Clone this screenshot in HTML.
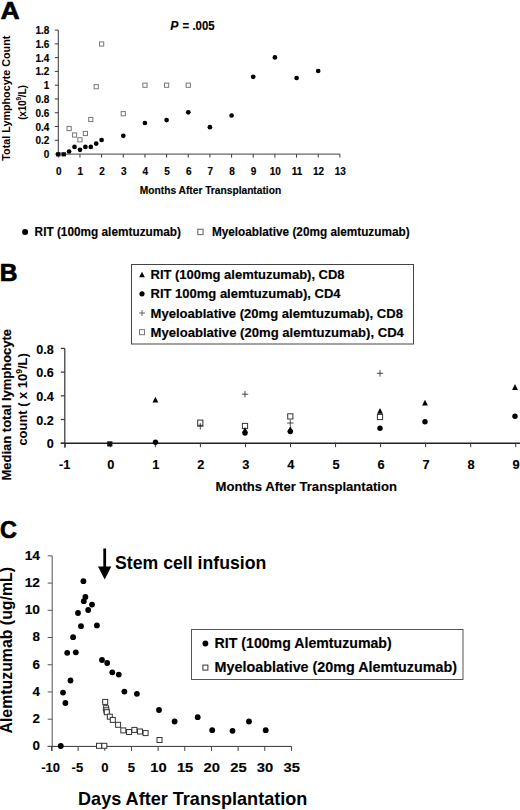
<!DOCTYPE html>
<html><head><meta charset="utf-8"><style>
html,body{margin:0;padding:0;background:#fff;}
body{width:520px;height:810px;overflow:hidden;}
svg{display:block;font-family:"Liberation Sans", sans-serif;}
text{stroke:#000;stroke-width:0.15px;paint-order:stroke;}
text.t{stroke:none;}
.big text{stroke:#000;stroke-width:0.7px;stroke-linejoin:round;}
</style></head><body>
<svg width="520" height="810" viewBox="0 0 520 810" font-family='"Liberation Sans", sans-serif'>
<rect width="520" height="810" fill="#fff"/>
<g class="big">
<text x="0.6" y="19.2" font-size="24.6" text-anchor="start" font-weight="bold" textLength="19.2" lengthAdjust="spacingAndGlyphs" class="t">A</text>
</g>
<line x1="58.3" y1="30.079999999999984" x2="58.3" y2="154.6" stroke="#3a3a3a" stroke-width="1"/>
<line x1="57.8" y1="154.1" x2="339.88" y2="154.1" stroke="#666" stroke-width="1.1"/>
<line x1="54.8" y1="154.1" x2="58.3" y2="154.1" stroke="#3a3a3a" stroke-width="1"/>
<text x="49.4" y="158.1" font-size="10" text-anchor="end" font-weight="bold">0</text>
<line x1="54.8" y1="140.32" x2="58.3" y2="140.32" stroke="#3a3a3a" stroke-width="1"/>
<text x="49.4" y="144.32" font-size="10" text-anchor="end" font-weight="bold">0.2</text>
<line x1="54.8" y1="126.53999999999999" x2="58.3" y2="126.53999999999999" stroke="#3a3a3a" stroke-width="1"/>
<text x="49.4" y="130.54" font-size="10" text-anchor="end" font-weight="bold">0.4</text>
<line x1="54.8" y1="112.75999999999999" x2="58.3" y2="112.75999999999999" stroke="#3a3a3a" stroke-width="1"/>
<text x="49.4" y="116.75999999999999" font-size="10" text-anchor="end" font-weight="bold">0.6</text>
<line x1="54.8" y1="98.97999999999999" x2="58.3" y2="98.97999999999999" stroke="#3a3a3a" stroke-width="1"/>
<text x="49.4" y="102.97999999999999" font-size="10" text-anchor="end" font-weight="bold">0.8</text>
<line x1="54.8" y1="85.19999999999999" x2="58.3" y2="85.19999999999999" stroke="#3a3a3a" stroke-width="1"/>
<text x="49.4" y="89.19999999999999" font-size="10" text-anchor="end" font-weight="bold">1</text>
<line x1="54.8" y1="71.41999999999997" x2="58.3" y2="71.41999999999997" stroke="#3a3a3a" stroke-width="1"/>
<text x="49.4" y="75.41999999999997" font-size="10" text-anchor="end" font-weight="bold">1.2</text>
<line x1="54.8" y1="57.63999999999997" x2="58.3" y2="57.63999999999997" stroke="#3a3a3a" stroke-width="1"/>
<text x="49.4" y="61.63999999999997" font-size="10" text-anchor="end" font-weight="bold">1.4</text>
<line x1="54.8" y1="43.859999999999985" x2="58.3" y2="43.859999999999985" stroke="#3a3a3a" stroke-width="1"/>
<text x="49.4" y="47.859999999999985" font-size="10" text-anchor="end" font-weight="bold">1.6</text>
<line x1="54.8" y1="30.079999999999984" x2="58.3" y2="30.079999999999984" stroke="#3a3a3a" stroke-width="1"/>
<text x="49.4" y="34.079999999999984" font-size="10" text-anchor="end" font-weight="bold">1.8</text>
<line x1="58.3" y1="154.1" x2="58.3" y2="157.6" stroke="#3a3a3a" stroke-width="1"/>
<text x="58.699999999999996" y="174.8" font-size="10" text-anchor="middle" font-weight="bold">0</text>
<line x1="79.96" y1="154.1" x2="79.96" y2="157.6" stroke="#3a3a3a" stroke-width="1"/>
<text x="80.36" y="174.8" font-size="10" text-anchor="middle" font-weight="bold">1</text>
<line x1="101.62" y1="154.1" x2="101.62" y2="157.6" stroke="#3a3a3a" stroke-width="1"/>
<text x="102.02000000000001" y="174.8" font-size="10" text-anchor="middle" font-weight="bold">2</text>
<line x1="123.28" y1="154.1" x2="123.28" y2="157.6" stroke="#3a3a3a" stroke-width="1"/>
<text x="123.68" y="174.8" font-size="10" text-anchor="middle" font-weight="bold">3</text>
<line x1="144.94" y1="154.1" x2="144.94" y2="157.6" stroke="#3a3a3a" stroke-width="1"/>
<text x="145.34" y="174.8" font-size="10" text-anchor="middle" font-weight="bold">4</text>
<line x1="166.6" y1="154.1" x2="166.6" y2="157.6" stroke="#3a3a3a" stroke-width="1"/>
<text x="167.0" y="174.8" font-size="10" text-anchor="middle" font-weight="bold">5</text>
<line x1="188.26" y1="154.1" x2="188.26" y2="157.6" stroke="#3a3a3a" stroke-width="1"/>
<text x="188.66" y="174.8" font-size="10" text-anchor="middle" font-weight="bold">6</text>
<line x1="209.92000000000002" y1="154.1" x2="209.92000000000002" y2="157.6" stroke="#3a3a3a" stroke-width="1"/>
<text x="210.32000000000002" y="174.8" font-size="10" text-anchor="middle" font-weight="bold">7</text>
<line x1="231.57999999999998" y1="154.1" x2="231.57999999999998" y2="157.6" stroke="#3a3a3a" stroke-width="1"/>
<text x="231.98" y="174.8" font-size="10" text-anchor="middle" font-weight="bold">8</text>
<line x1="253.24" y1="154.1" x2="253.24" y2="157.6" stroke="#3a3a3a" stroke-width="1"/>
<text x="253.64000000000001" y="174.8" font-size="10" text-anchor="middle" font-weight="bold">9</text>
<line x1="274.9" y1="154.1" x2="274.9" y2="157.6" stroke="#3a3a3a" stroke-width="1"/>
<text x="275.29999999999995" y="174.8" font-size="10" text-anchor="middle" font-weight="bold">10</text>
<line x1="296.56" y1="154.1" x2="296.56" y2="157.6" stroke="#3a3a3a" stroke-width="1"/>
<text x="296.96" y="174.8" font-size="10" text-anchor="middle" font-weight="bold">11</text>
<line x1="318.22" y1="154.1" x2="318.22" y2="157.6" stroke="#3a3a3a" stroke-width="1"/>
<text x="318.62" y="174.8" font-size="10" text-anchor="middle" font-weight="bold">12</text>
<line x1="339.88" y1="154.1" x2="339.88" y2="157.6" stroke="#3a3a3a" stroke-width="1"/>
<text x="340.28" y="174.8" font-size="10" text-anchor="middle" font-weight="bold">13</text>
<text x="210.5" y="194.1" font-size="10.2" text-anchor="middle" font-weight="bold" textLength="141.3" lengthAdjust="spacingAndGlyphs">Months After Transplantation</text>
<text x="170.3" y="29.9" font-size="12.2" text-anchor="start" font-weight="bold" font-style="italic">P</text>
<text x="182.6" y="29.9" font-size="12.2" text-anchor="start" font-weight="bold" textLength="32.0" lengthAdjust="spacingAndGlyphs">= .005</text>
<text x="9.6" y="98.2" font-size="10.8" text-anchor="middle" font-weight="bold" textLength="125" lengthAdjust="spacingAndGlyphs" transform="rotate(-90 9.6 98.2)" class="t">Total Lymphocyte Count</text>
<text class="t" x="26" y="102.5" font-size="10.2" font-weight="bold" text-anchor="middle" textLength="34.6" lengthAdjust="spacing" transform="rotate(-90 26 102.5)">(x10<tspan font-size="6.5" dy="-5">9</tspan><tspan dy="5">/L)</tspan></text>
<rect x="67.03" y="126.40" width="4.2" height="4.2" fill="#fff" stroke="#777" stroke-width="1"/>
<rect x="72.45" y="132.90" width="4.2" height="4.2" fill="#fff" stroke="#777" stroke-width="1"/>
<rect x="77.86" y="137.70" width="4.2" height="4.2" fill="#fff" stroke="#777" stroke-width="1"/>
<rect x="83.28" y="131.40" width="4.2" height="4.2" fill="#fff" stroke="#777" stroke-width="1"/>
<rect x="88.69" y="117.40" width="4.2" height="4.2" fill="#fff" stroke="#777" stroke-width="1"/>
<rect x="94.11" y="84.60" width="4.2" height="4.2" fill="#fff" stroke="#777" stroke-width="1"/>
<rect x="99.52" y="41.90" width="4.2" height="4.2" fill="#fff" stroke="#777" stroke-width="1"/>
<rect x="121.18" y="111.60" width="4.2" height="4.2" fill="#fff" stroke="#777" stroke-width="1"/>
<rect x="142.84" y="83.10" width="4.2" height="4.2" fill="#fff" stroke="#777" stroke-width="1"/>
<rect x="164.50" y="83.10" width="4.2" height="4.2" fill="#fff" stroke="#777" stroke-width="1"/>
<rect x="186.16" y="83.10" width="4.2" height="4.2" fill="#fff" stroke="#777" stroke-width="1"/>
<rect x="56.1" y="152.2" width="4.4" height="4.2" fill="#000"/>
<rect x="61.5" y="152.2" width="4.4" height="4.2" fill="#000"/>
<circle cx="69.1" cy="151.5" r="2.35" fill="#000"/>
<circle cx="74.5" cy="146.9" r="2.35" fill="#000"/>
<circle cx="80.0" cy="149.8" r="2.35" fill="#000"/>
<circle cx="85.4" cy="146.9" r="2.35" fill="#000"/>
<circle cx="90.8" cy="146.9" r="2.35" fill="#000"/>
<circle cx="96.2" cy="143.6" r="2.35" fill="#000"/>
<circle cx="101.6" cy="140.0" r="2.35" fill="#000"/>
<circle cx="123.3" cy="135.8" r="2.35" fill="#000"/>
<circle cx="144.9" cy="123.0" r="2.35" fill="#000"/>
<circle cx="166.6" cy="120.1" r="2.35" fill="#000"/>
<circle cx="188.3" cy="112.3" r="2.35" fill="#000"/>
<circle cx="209.9" cy="127.2" r="2.35" fill="#000"/>
<circle cx="231.6" cy="115.5" r="2.35" fill="#000"/>
<circle cx="253.2" cy="76.8" r="2.35" fill="#000"/>
<circle cx="274.9" cy="57.4" r="2.35" fill="#000"/>
<circle cx="296.6" cy="78.0" r="2.35" fill="#000"/>
<circle cx="318.2" cy="71.0" r="2.35" fill="#000"/>
<circle cx="25.1" cy="231.9" r="3" fill="#000"/>
<text x="34.6" y="235.7" font-size="12.2" text-anchor="start" font-weight="bold" textLength="146.4" lengthAdjust="spacingAndGlyphs">RIT (100mg alemtuzumab)</text>
<rect x="197.75" y="229.25" width="5.3" height="5.3" fill="#fff" stroke="#777" stroke-width="1.2"/>
<text x="211.9" y="235.7" font-size="12.2" text-anchor="start" font-weight="bold" textLength="197.7" lengthAdjust="spacingAndGlyphs">Myeloablative (20mg alemtuzumab)</text>
<g class="big">
<text x="-0.3" y="280.6" font-size="24.5" text-anchor="start" font-weight="bold" class="t">B</text>
</g>
<rect x="131.5" y="264.5" width="282" height="79.5" fill="none" stroke="#444" stroke-width="1"/>
<polygon points="139.2,277.2 144.8,277.2 142.0,271.8" fill="#000"/>
<text x="150.5" y="279.1" font-size="12.4" text-anchor="start" font-weight="bold" textLength="194.1" lengthAdjust="spacingAndGlyphs">RIT (100mg alemtuzumab), CD8</text>
<circle cx="142.0" cy="293.8" r="2.6" fill="#000"/>
<text x="150.5" y="298.35" font-size="12.4" text-anchor="start" font-weight="bold" textLength="190.1" lengthAdjust="spacingAndGlyphs">RIT 100mg alemtuzumab), CD4</text>
<path d="M139.0 313.0H145.0M142.0 310.0V316.0" stroke="#444" stroke-width="0.8" fill="none"/>
<text x="150.5" y="317.6" font-size="12.4" text-anchor="start" font-weight="bold" textLength="252.5" lengthAdjust="spacingAndGlyphs">Myeloablative (20mg alemtuzumab), CD8</text>
<rect x="139.50" y="329.70" width="5" height="5" fill="#fff" stroke="#777" stroke-width="1"/>
<text x="150.5" y="336.8" font-size="12.4" text-anchor="start" font-weight="bold" textLength="253.4" lengthAdjust="spacingAndGlyphs">Myeloablative (20mg alemtuzumab), CD4</text>
<line x1="64.8" y1="348.4" x2="64.8" y2="447.7" stroke="#333" stroke-width="1.2"/>
<line x1="60.8" y1="443.2" x2="520" y2="443.2" stroke="#222" stroke-width="1.4"/>
<line x1="60.8" y1="443.2" x2="64.8" y2="443.2" stroke="#333" stroke-width="1.2"/>
<text x="53.7" y="448.4" font-size="12.6" text-anchor="end" font-weight="bold">0</text>
<line x1="60.8" y1="419.5" x2="64.8" y2="419.5" stroke="#333" stroke-width="1.2"/>
<text x="53.7" y="424.7" font-size="12.6" text-anchor="end" font-weight="bold">0.2</text>
<line x1="60.8" y1="395.79999999999995" x2="64.8" y2="395.79999999999995" stroke="#333" stroke-width="1.2"/>
<text x="53.7" y="400.99999999999994" font-size="12.6" text-anchor="end" font-weight="bold">0.4</text>
<line x1="60.8" y1="372.09999999999997" x2="64.8" y2="372.09999999999997" stroke="#333" stroke-width="1.2"/>
<text x="53.7" y="377.29999999999995" font-size="12.6" text-anchor="end" font-weight="bold">0.6</text>
<line x1="60.8" y1="348.4" x2="64.8" y2="348.4" stroke="#333" stroke-width="1.2"/>
<text x="53.7" y="353.59999999999997" font-size="12.6" text-anchor="end" font-weight="bold">0.8</text>
<line x1="65.25" y1="443.2" x2="65.25" y2="447.2" stroke="#333" stroke-width="1"/>
<text x="64.65" y="468.6" font-size="12.8" text-anchor="middle" font-weight="bold">-1</text>
<line x1="110.3" y1="443.2" x2="110.3" y2="447.2" stroke="#333" stroke-width="1"/>
<text x="110.7" y="468.6" font-size="12.8" text-anchor="middle" font-weight="bold">0</text>
<line x1="155.35" y1="443.2" x2="155.35" y2="447.2" stroke="#333" stroke-width="1"/>
<text x="155.75" y="468.6" font-size="12.8" text-anchor="middle" font-weight="bold">1</text>
<line x1="200.39999999999998" y1="443.2" x2="200.39999999999998" y2="447.2" stroke="#333" stroke-width="1"/>
<text x="200.79999999999998" y="468.6" font-size="12.8" text-anchor="middle" font-weight="bold">2</text>
<line x1="245.45" y1="443.2" x2="245.45" y2="447.2" stroke="#333" stroke-width="1"/>
<text x="245.85" y="468.6" font-size="12.8" text-anchor="middle" font-weight="bold">3</text>
<line x1="290.5" y1="443.2" x2="290.5" y2="447.2" stroke="#333" stroke-width="1"/>
<text x="290.9" y="468.6" font-size="12.8" text-anchor="middle" font-weight="bold">4</text>
<line x1="335.55" y1="443.2" x2="335.55" y2="447.2" stroke="#333" stroke-width="1"/>
<text x="335.95" y="468.6" font-size="12.8" text-anchor="middle" font-weight="bold">5</text>
<line x1="380.59999999999997" y1="443.2" x2="380.59999999999997" y2="447.2" stroke="#333" stroke-width="1"/>
<text x="380.99999999999994" y="468.6" font-size="12.8" text-anchor="middle" font-weight="bold">6</text>
<line x1="425.65" y1="443.2" x2="425.65" y2="447.2" stroke="#333" stroke-width="1"/>
<text x="426.04999999999995" y="468.6" font-size="12.8" text-anchor="middle" font-weight="bold">7</text>
<line x1="470.7" y1="443.2" x2="470.7" y2="447.2" stroke="#333" stroke-width="1"/>
<text x="471.09999999999997" y="468.6" font-size="12.8" text-anchor="middle" font-weight="bold">8</text>
<line x1="515.75" y1="443.2" x2="515.75" y2="447.2" stroke="#333" stroke-width="1"/>
<text x="516.15" y="468.6" font-size="12.8" text-anchor="middle" font-weight="bold">9</text>
<text x="306.3" y="491.4" font-size="13.6" text-anchor="middle" font-weight="bold" textLength="181.4" lengthAdjust="spacingAndGlyphs">Months After Transplantation</text>
<text x="10.8" y="480.5" font-size="12.3" text-anchor="start" font-weight="bold" textLength="151.6" lengthAdjust="spacingAndGlyphs" transform="rotate(-90 10.8 480.5)">Median total lymphocyte</text>
<text class="t" x="26.6" y="445.6" font-size="12.5" font-weight="bold" text-anchor="start" textLength="92.4" lengthAdjust="spacingAndGlyphs" transform="rotate(-90 26.6 445.6)">count ( x 10<tspan font-size="8.2" dy="-4.6">9</tspan><tspan dy="4.6">/L)</tspan></text>
<rect x="107.2" y="441.3" width="5.2" height="5.2" fill="#111"/>
<polygon points="152.5,402.5 158.3,402.5 155.4,396.7" fill="#000"/>
<circle cx="155.5" cy="442.2" r="2.7" fill="#000"/>
<rect x="197.70" y="420.10" width="5.2" height="5.2" fill="#fff" stroke="#333" stroke-width="1"/>
<path d="M197.1 426.3H203.6M200.3 423.1V429.6" stroke="#222" stroke-width="0.8" fill="none"/>
<path d="M241.8 394.2H248.2M245.0 390.9V397.4" stroke="#222" stroke-width="0.8" fill="none"/>
<rect x="242.40" y="423.40" width="5.2" height="5.2" fill="#fff" stroke="#333" stroke-width="1"/>
<polygon points="242.1,432.7 247.9,432.7 245.0,426.9" fill="#000"/>
<circle cx="245.0" cy="433.0" r="2.7" fill="#000"/>
<rect x="287.70" y="413.80" width="5.2" height="5.2" fill="#fff" stroke="#333" stroke-width="1"/>
<path d="M287.1 423.0H293.6M290.3 419.8V426.2" stroke="#222" stroke-width="0.8" fill="none"/>
<polygon points="287.4,431.9 293.2,431.9 290.3,426.1" fill="#000"/>
<circle cx="290.3" cy="431.5" r="2.7" fill="#000"/>
<path d="M376.8 373.3H383.2M380.0 370.1V376.6" stroke="#222" stroke-width="0.8" fill="none"/>
<rect x="377.40" y="414.40" width="5.2" height="5.2" fill="#fff" stroke="#333" stroke-width="1"/>
<polygon points="377.1,413.8 382.9,413.8 380.0,408.0" fill="#000"/>
<circle cx="380.0" cy="428.2" r="2.7" fill="#000"/>
<polygon points="422.1,405.5 427.9,405.5 425.0,399.7" fill="#000"/>
<circle cx="425.0" cy="421.7" r="2.7" fill="#000"/>
<polygon points="512.1,389.9 517.9,389.9 515.0,384.1" fill="#000"/>
<circle cx="515.0" cy="416.3" r="2.7" fill="#000"/>
<g class="big">
<text x="0.1" y="537.8" font-size="24.6" text-anchor="start" font-weight="bold" textLength="16.9" lengthAdjust="spacingAndGlyphs" class="t">C</text>
</g>
<line x1="52.2" y1="555.86" x2="52.2" y2="750.9" stroke="#555" stroke-width="1"/>
<line x1="47.7" y1="746.4" x2="291.455" y2="746.4" stroke="#333" stroke-width="1"/>
<line x1="47.7" y1="746.4" x2="52.2" y2="746.4" stroke="#555" stroke-width="1"/>
<text x="40.0" y="750.3" font-size="13.4" text-anchor="end" font-weight="bold">0</text>
<line x1="47.7" y1="719.18" x2="52.2" y2="719.18" stroke="#555" stroke-width="1"/>
<text x="40.0" y="723.0799999999999" font-size="13.4" text-anchor="end" font-weight="bold">2</text>
<line x1="47.7" y1="691.96" x2="52.2" y2="691.96" stroke="#555" stroke-width="1"/>
<text x="40.0" y="695.86" font-size="13.4" text-anchor="end" font-weight="bold">4</text>
<line x1="47.7" y1="664.74" x2="52.2" y2="664.74" stroke="#555" stroke-width="1"/>
<text x="40.0" y="668.64" font-size="13.4" text-anchor="end" font-weight="bold">6</text>
<line x1="47.7" y1="637.52" x2="52.2" y2="637.52" stroke="#555" stroke-width="1"/>
<text x="40.0" y="641.42" font-size="13.4" text-anchor="end" font-weight="bold">8</text>
<line x1="47.7" y1="610.3" x2="52.2" y2="610.3" stroke="#555" stroke-width="1"/>
<text x="40.0" y="614.1999999999999" font-size="13.4" text-anchor="end" font-weight="bold" textLength="15.3" lengthAdjust="spacingAndGlyphs">10</text>
<line x1="47.7" y1="583.0799999999999" x2="52.2" y2="583.0799999999999" stroke="#555" stroke-width="1"/>
<text x="40.0" y="586.9799999999999" font-size="13.4" text-anchor="end" font-weight="bold" textLength="15.3" lengthAdjust="spacingAndGlyphs">12</text>
<line x1="47.7" y1="555.86" x2="52.2" y2="555.86" stroke="#555" stroke-width="1"/>
<text x="40.0" y="559.76" font-size="13.4" text-anchor="end" font-weight="bold" textLength="15.3" lengthAdjust="spacingAndGlyphs">14</text>
<line x1="51.47" y1="746.4" x2="51.47" y2="750.9" stroke="#444" stroke-width="1"/>
<text x="50.67" y="772.4" font-size="13" text-anchor="middle" font-weight="bold" textLength="18.8" lengthAdjust="spacingAndGlyphs">-10</text>
<line x1="78.13499999999999" y1="746.4" x2="78.13499999999999" y2="750.9" stroke="#444" stroke-width="1"/>
<text x="77.335" y="772.4" font-size="13" text-anchor="middle" font-weight="bold">-5</text>
<line x1="104.8" y1="746.4" x2="104.8" y2="750.9" stroke="#444" stroke-width="1"/>
<text x="104.8" y="772.4" font-size="13" text-anchor="middle" font-weight="bold">0</text>
<line x1="131.465" y1="746.4" x2="131.465" y2="750.9" stroke="#444" stroke-width="1"/>
<text x="131.465" y="772.4" font-size="13" text-anchor="middle" font-weight="bold">5</text>
<line x1="158.13" y1="746.4" x2="158.13" y2="750.9" stroke="#444" stroke-width="1"/>
<text x="158.43" y="772.4" font-size="13" text-anchor="middle" font-weight="bold" textLength="16.4" lengthAdjust="spacingAndGlyphs">10</text>
<line x1="184.79500000000002" y1="746.4" x2="184.79500000000002" y2="750.9" stroke="#444" stroke-width="1"/>
<text x="185.09500000000003" y="772.4" font-size="13" text-anchor="middle" font-weight="bold" textLength="16.4" lengthAdjust="spacingAndGlyphs">15</text>
<line x1="211.45999999999998" y1="746.4" x2="211.45999999999998" y2="750.9" stroke="#444" stroke-width="1"/>
<text x="211.76" y="772.4" font-size="13" text-anchor="middle" font-weight="bold" textLength="16.4" lengthAdjust="spacingAndGlyphs">20</text>
<line x1="238.125" y1="746.4" x2="238.125" y2="750.9" stroke="#444" stroke-width="1"/>
<text x="238.425" y="772.4" font-size="13" text-anchor="middle" font-weight="bold" textLength="16.4" lengthAdjust="spacingAndGlyphs">25</text>
<line x1="264.79" y1="746.4" x2="264.79" y2="750.9" stroke="#444" stroke-width="1"/>
<text x="265.09000000000003" y="772.4" font-size="13" text-anchor="middle" font-weight="bold" textLength="16.4" lengthAdjust="spacingAndGlyphs">30</text>
<line x1="291.455" y1="746.4" x2="291.455" y2="750.9" stroke="#444" stroke-width="1"/>
<text x="291.755" y="772.4" font-size="13" text-anchor="middle" font-weight="bold" textLength="16.4" lengthAdjust="spacingAndGlyphs">35</text>
<text x="192.7" y="804.8" font-size="18.5" text-anchor="middle" font-weight="bold" textLength="229.3" lengthAdjust="spacingAndGlyphs" class="t">Days After Transplantation</text>
<text x="12.3" y="733.5" font-size="15.8" text-anchor="start" font-weight="bold" textLength="166.5" lengthAdjust="spacingAndGlyphs" transform="rotate(-90 12.3 733.5)" class="t">Alemtuzumab (ug/mL)</text>
<path d="M104.7 548.5V568" stroke="#000" stroke-width="2.8"/>
<polygon points="98,566.5 111.3,566.5 104.7,579.5" fill="#000"/>
<text x="115" y="568.5" font-size="17.8" text-anchor="start" font-weight="bold" textLength="151.3" lengthAdjust="spacingAndGlyphs" class="t">Stem cell infusion</text>
<rect x="191.5" y="629.5" width="271.5" height="50" fill="none" stroke="#555" stroke-width="1"/>
<circle cx="205.4" cy="643.5" r="2.9" fill="#000"/>
<text x="214.6" y="647.6" font-size="14.8" text-anchor="start" font-weight="bold" textLength="177.1" lengthAdjust="spacingAndGlyphs">RIT (100mg Alemtuzumab)</text>
<rect x="202.90" y="665.10" width="5" height="5" fill="#fff" stroke="#333" stroke-width="1"/>
<text x="214.6" y="672.2" font-size="14.8" text-anchor="start" font-weight="bold" textLength="242.4" lengthAdjust="spacingAndGlyphs">Myeloablative (20mg Alemtuzumab)</text>
<rect x="96.50" y="743.30" width="5" height="5" fill="#fff" stroke="#333" stroke-width="1"/>
<rect x="101.80" y="743.30" width="5" height="5" fill="#fff" stroke="#333" stroke-width="1"/>
<rect x="102.70" y="699.40" width="5" height="5" fill="#fff" stroke="#333" stroke-width="1"/>
<rect x="103.40" y="705.70" width="5" height="5" fill="#fff" stroke="#333" stroke-width="1"/>
<rect x="103.90" y="707.80" width="5" height="5" fill="#fff" stroke="#333" stroke-width="1"/>
<rect x="104.30" y="709.70" width="5" height="5" fill="#fff" stroke="#333" stroke-width="1"/>
<rect x="107.30" y="714.20" width="5" height="5" fill="#fff" stroke="#333" stroke-width="1"/>
<rect x="110.30" y="717.40" width="5" height="5" fill="#fff" stroke="#333" stroke-width="1"/>
<rect x="115.60" y="722.30" width="5" height="5" fill="#fff" stroke="#333" stroke-width="1"/>
<rect x="120.80" y="727.90" width="5" height="5" fill="#fff" stroke="#333" stroke-width="1"/>
<rect x="126.60" y="729.50" width="5" height="5" fill="#fff" stroke="#333" stroke-width="1"/>
<rect x="131.90" y="727.40" width="5" height="5" fill="#fff" stroke="#333" stroke-width="1"/>
<rect x="137.50" y="729.00" width="5" height="5" fill="#fff" stroke="#333" stroke-width="1"/>
<rect x="143.10" y="730.60" width="5" height="5" fill="#fff" stroke="#333" stroke-width="1"/>
<rect x="157.00" y="737.50" width="5" height="5" fill="#fff" stroke="#333" stroke-width="1"/>
<circle cx="60.8" cy="746.0" r="2.9" fill="#000"/>
<circle cx="65.4" cy="703.0" r="2.9" fill="#000"/>
<circle cx="63.0" cy="692.6" r="2.9" fill="#000"/>
<circle cx="70.5" cy="680.5" r="2.9" fill="#000"/>
<circle cx="67.2" cy="652.8" r="2.9" fill="#000"/>
<circle cx="75.8" cy="652.3" r="2.9" fill="#000"/>
<circle cx="73.1" cy="637.2" r="2.9" fill="#000"/>
<circle cx="81.0" cy="626.2" r="2.9" fill="#000"/>
<circle cx="78.0" cy="613.0" r="2.9" fill="#000"/>
<circle cx="96.9" cy="625.4" r="2.9" fill="#000"/>
<circle cx="88.2" cy="610.0" r="2.9" fill="#000"/>
<circle cx="92.0" cy="604.6" r="2.9" fill="#000"/>
<circle cx="83.8" cy="601.2" r="2.9" fill="#000"/>
<circle cx="85.4" cy="596.9" r="2.9" fill="#000"/>
<circle cx="83.4" cy="581.2" r="2.9" fill="#000"/>
<circle cx="102.0" cy="660.0" r="2.9" fill="#000"/>
<circle cx="107.2" cy="663.0" r="2.9" fill="#000"/>
<circle cx="112.3" cy="672.3" r="2.9" fill="#000"/>
<circle cx="118.8" cy="674.6" r="2.9" fill="#000"/>
<circle cx="124.4" cy="691.6" r="2.9" fill="#000"/>
<circle cx="136.9" cy="693.8" r="2.9" fill="#000"/>
<circle cx="159.0" cy="710.0" r="2.9" fill="#000"/>
<circle cx="174.6" cy="721.5" r="2.9" fill="#000"/>
<circle cx="197.7" cy="717.2" r="2.9" fill="#000"/>
<circle cx="212.2" cy="730.2" r="2.9" fill="#000"/>
<circle cx="232.5" cy="730.8" r="2.9" fill="#000"/>
<circle cx="249.0" cy="721.5" r="2.9" fill="#000"/>
<circle cx="265.7" cy="730.2" r="2.9" fill="#000"/>
</svg>
</body></html>
